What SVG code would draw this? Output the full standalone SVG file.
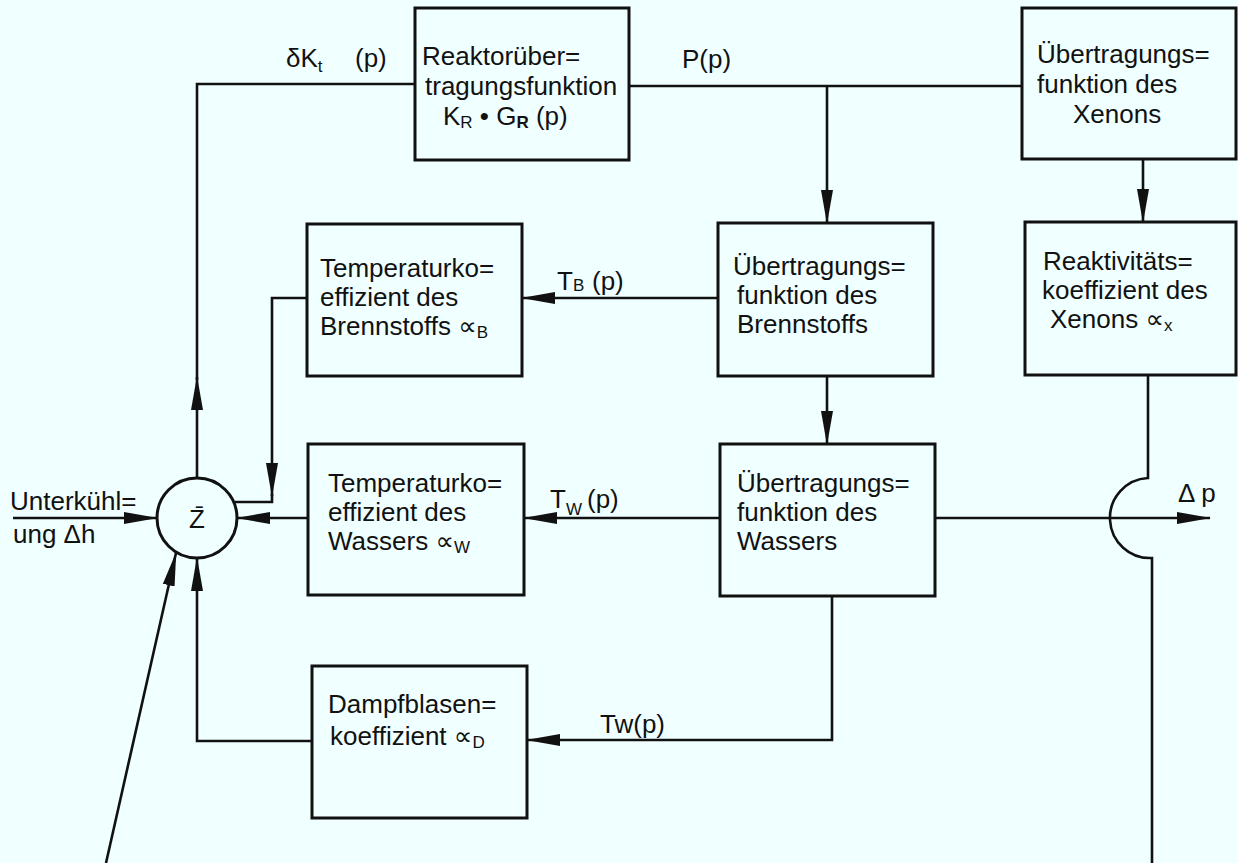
<svg xmlns="http://www.w3.org/2000/svg" width="1238" height="863" viewBox="0 0 1238 863">
<style>
.bg{fill:#f0ffff}
.box{fill:none;stroke:#111;stroke-width:3}
.ln{fill:none;stroke:#111;stroke-width:2.6}
text{font-family:"Liberation Sans",Arial,"DejaVu Sans",sans-serif;font-size:26px;fill:#111}
.sub{font-size:17px}
</style>
<defs>
<marker id="ah" viewBox="0 0 34 12" refX="33" refY="6" markerWidth="34" markerHeight="12" markerUnits="userSpaceOnUse" orient="auto">
<path d="M0,0 L34,6 L0,12 z" fill="#111"/>
</marker>
</defs>
<rect class="bg" x="0" y="0" width="1238" height="863"/>

<g id="connectors">
<path class="ln" d="M629,86 H1022"/>
<path class="ln" d="M827,86 V223" marker-end="url(#ah)"/>
<path class="ln" d="M1143,159 V222" marker-end="url(#ah)"/>
<path class="ln" d="M718,298 H522" marker-end="url(#ah)"/>
<path class="ln" d="M827,376 V444" marker-end="url(#ah)"/>
<path class="ln" d="M720,518 H524" marker-end="url(#ah)"/>
<path class="ln" d="M307,298 H272 V496" marker-end="url(#ah)"/>
<path class="ln" d="M272,494 V502 H235"/>
<path class="ln" d="M308,518 H237" marker-end="url(#ah)"/>
<path class="ln" d="M13,518 H157" marker-end="url(#ah)"/>
<path class="ln" d="M197,478 V377" marker-end="url(#ah)"/>
<path class="ln" d="M197,380 V84 H415"/>
<path class="ln" d="M312,741 H197 V558" marker-end="url(#ah)"/>
<path class="ln" d="M832,596 V740 H527" marker-end="url(#ah)"/>
<path class="ln" d="M935,518 H1210" marker-end="url(#ah)"/>
<path class="ln" d="M1148,375 V478 A40,40 0 0 0 1152,558 V863"/>
<path class="ln" d="M106,863 L176,553" marker-end="url(#ah)"/>
</g>

<g id="labels">
<text x="286" y="67">δK<tspan class="sub" dy="5">t</tspan><tspan x="355" dy="-5">(p)</tspan></text>
<text x="682" y="68">P(p)</text>
<text x="557" y="290">T<tspan class="sub" dy="1">B</tspan><tspan x="592" dy="-1">(p)</tspan></text>
<text x="550" y="508">T<tspan class="sub" x="566" dy="7">W</tspan><tspan x="587" dy="-7">(p)</tspan></text>
<text x="600" y="733">Tw(p)</text>
<text x="10" y="510">Unterkühl=</text>
<text x="13" y="543">ung Δh</text>
<text x="1178" y="502">Δ p</text>
</g>

<g id="node-reaktor">
<rect class="box" x="415" y="8" width="214" height="152"/>
<text x="422" y="65">Reaktorüber=</text>
<text x="425" y="95">tragungsfunktion</text>
<text x="443" y="125">K<tspan class="sub" dy="3">R</tspan><tspan dy="-3"> • G</tspan><tspan class="sub" dy="3" font-weight="bold">R</tspan><tspan dy="-3"> (p)</tspan></text>
</g>

<g id="node-xenon-uebertragung">
<rect class="box" x="1022" y="8" width="214" height="151"/>
<text x="1037" y="63">Übertragungs=</text>
<text x="1037" y="93">funktion des</text>
<text x="1073" y="123">Xenons</text>
</g>

<g id="node-temp-brennstoff">
<rect class="box" x="307" y="224" width="215" height="152"/>
<text x="320" y="277">Temperaturko=</text>
<text x="320" y="306">effizient des</text>
<text x="320" y="335">Brennstoffs ∝<tspan class="sub" dy="3">B</tspan></text>
</g>

<g id="node-uebertragung-brennstoff">
<rect class="box" x="718" y="223" width="215" height="153"/>
<text x="733" y="275">Übertragungs=</text>
<text x="737" y="304">funktion des</text>
<text x="737" y="333">Brennstoffs</text>
</g>

<g id="node-reaktivitaet-xenon">
<rect class="box" x="1025" y="222" width="211" height="153"/>
<text x="1043" y="270">Reaktivitäts=</text>
<text x="1042" y="299">koeffizient des</text>
<text x="1050" y="328">Xenons ∝<tspan class="sub" dy="3">x</tspan></text>
</g>

<g id="node-summe">
<circle class="box" cx="197" cy="518" r="40"/>
<text x="197" y="528" text-anchor="middle">Z̄</text>
</g>

<g id="node-temp-wasser">
<rect class="box" x="308" y="444" width="216" height="151"/>
<text x="328" y="492">Temperaturko=</text>
<text x="328" y="521">effizient des</text>
<text x="328" y="550">Wassers ∝<tspan class="sub" dy="3">W</tspan></text>
</g>

<g id="node-uebertragung-wasser">
<rect class="box" x="720" y="444" width="215" height="152"/>
<text x="737" y="492">Übertragungs=</text>
<text x="737" y="521">funktion des</text>
<text x="737" y="550">Wassers</text>
</g>

<g id="node-dampfblasen">
<rect class="box" x="312" y="666" width="215" height="152"/>
<text x="328" y="713">Dampfblasen=</text>
<text x="330" y="745">koeffizient ∝<tspan class="sub" dy="3">D</tspan></text>
</g>
</svg>
